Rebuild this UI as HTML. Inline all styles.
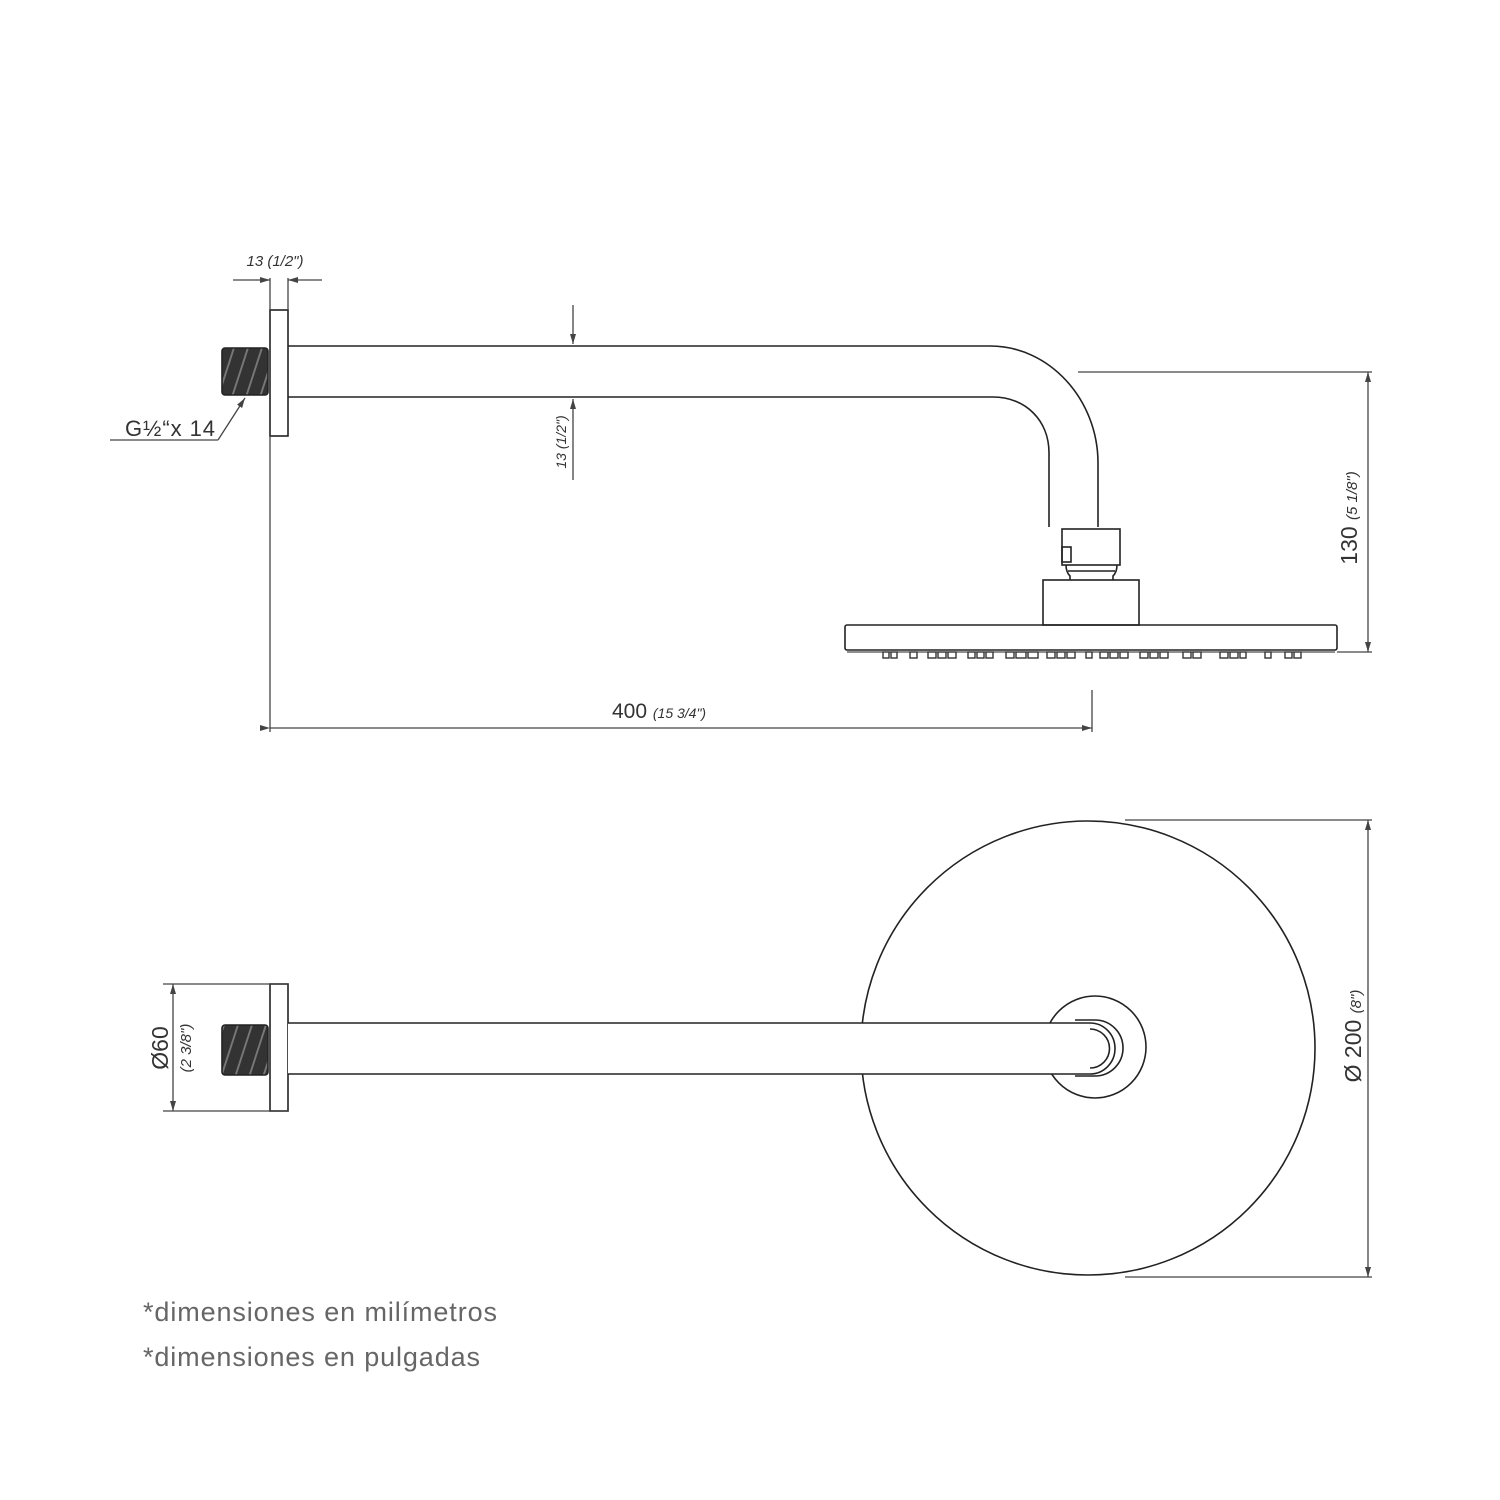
<!DOCTYPE html>
<html><head><meta charset="utf-8"><style>
html,body{margin:0;padding:0;background:#fff}
svg{display:block}
text{font-family:"Liberation Sans",sans-serif;fill:#333}
.it{font-style:italic}
</style></head><body>
<svg width="1500" height="1500" viewBox="0 0 1500 1500" xmlns="http://www.w3.org/2000/svg">
<defs>
<marker id="ar" viewBox="0 0 10 6" refX="10" refY="3" markerWidth="10" markerHeight="6" orient="auto" markerUnits="userSpaceOnUse"><path d="M0,0 L10,3 L0,6 z" fill="#444"/></marker>
<pattern id="thr" width="14" height="50" patternUnits="userSpaceOnUse" patternTransform="skewX(-18)"><rect width="14" height="50" fill="#333"/><rect x="10" width="2" height="50" fill="#777"/></pattern>
</defs>
<g stroke="#222" stroke-width="1.6" fill="none">
<rect x="270" y="310" width="18" height="126" fill="#fff"/>
<rect x="222" y="348" width="46" height="47" rx="3" fill="url(#thr)"/>
<path d="M288,346 L990,346 C1050,346 1098,400 1098,463 L1098,527"/>
<path d="M288,397 L993,397 C1025,397 1049,420 1049,453 L1049,527"/>
<rect x="1062" y="529" width="58" height="36"/>
<rect x="1062" y="547" width="9" height="15"/>
<path d="M1066,565 Q1066,572 1070,576 L1070,580 M1117,565 Q1117,572 1113,576 L1113,580 M1068,571 L1115,571"/>
<rect x="1043" y="580" width="96" height="45"/>
<rect x="845" y="625" width="492" height="25" rx="2"/>
<path d="M847,652 L1335,652" stroke-width="1"/>
</g>
<g fill="none" stroke="#333" stroke-width="1.4">
<rect x="883" y="652" width="6" height="6"/><rect x="891" y="652" width="6" height="6"/>
<rect x="910" y="652" width="7" height="6"/>
<rect x="928" y="652" width="8" height="6"/><rect x="938" y="652" width="8" height="6"/><rect x="948" y="652" width="8" height="6"/>
<rect x="968" y="652" width="7" height="6"/><rect x="977" y="652" width="7" height="6"/><rect x="986" y="652" width="7" height="6"/>
<rect x="1006" y="652" width="8" height="6"/><rect x="1016" y="652" width="10" height="6"/><rect x="1028" y="652" width="10" height="6"/>
<rect x="1047" y="652" width="8" height="6"/><rect x="1057" y="652" width="8" height="6"/><rect x="1067" y="652" width="8" height="6"/>
<rect x="1086" y="652" width="6" height="6"/><rect x="1100" y="652" width="8" height="6"/><rect x="1110" y="652" width="8" height="6"/><rect x="1120" y="652" width="8" height="6"/>
<rect x="1140" y="652" width="8" height="6"/><rect x="1150" y="652" width="8" height="6"/><rect x="1160" y="652" width="8" height="6"/>
<rect x="1183" y="652" width="8" height="6"/><rect x="1193" y="652" width="8" height="6"/>
<rect x="1220" y="652" width="8" height="6"/><rect x="1230" y="652" width="8" height="6"/><rect x="1240" y="652" width="6" height="6"/>
<rect x="1265" y="652" width="6" height="6"/><rect x="1285" y="652" width="7" height="6"/><rect x="1294" y="652" width="7" height="6"/>
</g>
<g stroke="#444" stroke-width="1.3" fill="none">
<path d="M270,278 L270,310 M288,278 L288,310"/>
<path d="M233,280 L270,280" marker-end="url(#ar)"/>
<path d="M322,280 L288,280" marker-end="url(#ar)"/>
<path d="M270,436 L270,732"/>
<path d="M1092,690 L1092,732"/>
<path d="M270,728 L1092,728" marker-start="url(#ar)" marker-end="url(#ar)"/>
<path d="M573,305 L573,344" marker-end="url(#ar)"/>
<path d="M573,480 L573,399" marker-end="url(#ar)"/>
<path d="M1078,372 L1372,372 M1337,652 L1372,652"/>
<path d="M1368,510 L1368,372" marker-end="url(#ar)"/>
<path d="M1368,510 L1368,652" marker-end="url(#ar)"/>
<path d="M110,440 L218,440"/>
<path d="M218,440 L245,398" marker-end="url(#ar)"/>
</g>
<text x="275" y="266" font-size="15" class="it" text-anchor="middle">13 (1/2")</text>
<text x="125" y="436" font-size="22" textLength="90">G½“x 14</text>
<text x="612" y="718" font-size="21">400 <tspan class="it" font-size="14">(15 3/4")</tspan></text>
<text transform="translate(566,442) rotate(-90)" font-size="14" class="it" text-anchor="middle">13 (1/2")</text>
<text transform="translate(1357,518) rotate(-90)" font-size="23" text-anchor="middle">130 <tspan class="it" font-size="15">(5 1/8")</tspan></text>

<g stroke="#222" stroke-width="1.6" fill="none">
<circle cx="1088" cy="1048" r="227"/>
<circle cx="1095" cy="1047" r="51" fill="#fff"/>
<rect x="270" y="984" width="18" height="127" fill="#fff"/>
<rect x="222" y="1025" width="46" height="50" rx="3" fill="url(#thr)"/>
<path d="M288,1023 L1090,1023 A25,25.5 0 0 1 1090,1074 L288,1074" fill="#fff"/>
<path d="M1075,1020 L1095,1020 A28,28 0 0 1 1095,1076 L1075,1076"/>
<path d="M1090,1029 A19,19 0 0 1 1090,1068"/>
</g>
<g stroke="#444" stroke-width="1.3" fill="none">
<path d="M163,984 L288,984 M163,1111 L288,1111"/>
<path d="M173,1048 L173,984" marker-end="url(#ar)"/>
<path d="M173,1048 L173,1111" marker-end="url(#ar)"/>
<path d="M1125,820 L1372,820 M1125,1277 L1372,1277"/>
<path d="M1368,1048 L1368,820" marker-end="url(#ar)"/>
<path d="M1368,1048 L1368,1277" marker-end="url(#ar)"/>
</g>
<text transform="translate(168,1048) rotate(-90)" font-size="23" text-anchor="middle">Ø60</text>
<text transform="translate(191,1048) rotate(-90)" font-size="15" class="it" text-anchor="middle">(2 3/8")</text>
<text transform="translate(1361,1036) rotate(-90)" font-size="23" text-anchor="middle">Ø 200 <tspan class="it" font-size="15">(8")</tspan></text>

<text x="143" y="1321" font-size="27" textLength="354" style="fill:#666">*dimensiones en milímetros</text>
<text x="143" y="1366" font-size="27" textLength="337" style="fill:#666">*dimensiones en pulgadas</text>
</svg>
</body></html>
